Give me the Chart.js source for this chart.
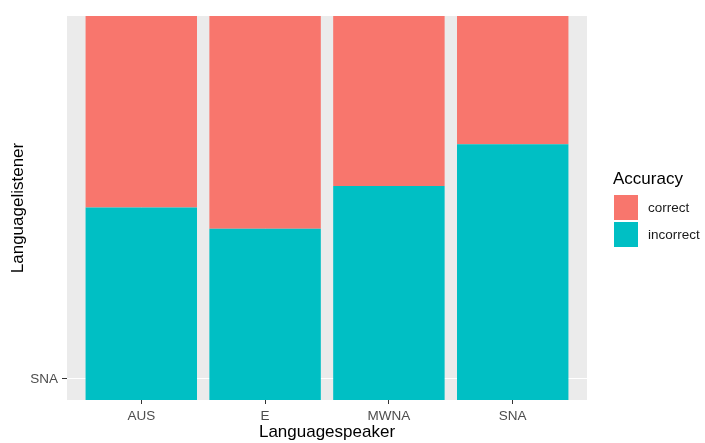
<!DOCTYPE html>
<html>
<head>
<meta charset="utf-8">
<script src="https://cdn.jsdelivr.net/npm/chart.js@4"></script>
<style>
  body { margin: 0; background: #fff; font-family: "Liberation Sans", Arial, sans-serif; }
  #wrap { position: relative; width: 705px; height: 443px; }
  #legend { position: absolute; left: 613px; top: 167px; }
  #legend .title { font-size: 17px; color: #000; height: 27px; line-height: 24px; }
  #legend .row { display: flex; align-items: center; height: 27px; }
  #legend .key { width: 26px; height: 27px; margin-right: 9px; border: 0.5px solid #fff; box-sizing: border-box; }
  #legend .lab { font-size: 13.5px; color: #1a1a1a; }
</style>
</head>
<body>
<div id="wrap">
  <canvas id="chart" width="705" height="443"></canvas>
  <div id="legend"></div>
</div>
<script>
const speakers = ["AUS", "E", "MWNA", "SNA"];
const incorrect = [0.501, 0.446, 0.557, 0.666];
const correct = [0.499, 0.554, 0.443, 0.334];
const yTickValues = [0.055];
const yTickLabels = ["SNA"];
const legendTitle = "Accuracy";

const colors = { correct: "#F8766D", incorrect: "#00BFC4" };

// grey panel behind the bars, like ggplot
const panelBg = {
  id: "panelBg",
  beforeDraw(chart) {
    const { ctx, chartArea: a } = chart;
    ctx.save();
    ctx.fillStyle = "#EBEBEB";
    ctx.fillRect(a.left, a.top, a.right - a.left, a.bottom - a.top);
    ctx.restore();
  }
};

const ctx = document.getElementById("chart").getContext("2d");
new Chart(ctx, {
  type: "bar",
  data: {
    datasets: [
      {
        label: "incorrect",
        data: incorrect.map((v, i) => ({ x: i + 1, y: v })),
        backgroundColor: colors.incorrect,
        barPercentage: 0.9,
        categoryPercentage: 1,
      },
      {
        label: "correct",
        data: correct.map((v, i) => ({ x: i + 1, y: v })),
        backgroundColor: colors.correct,
        barPercentage: 0.9,
        categoryPercentage: 1,
      },
    ],
  },
  options: {
    responsive: false,
    animation: false,
    layout: { padding: { top: 16, right: 118, left: 0, bottom: 0 } },
    plugins: { legend: { display: false }, tooltip: { enabled: false } },
    scales: {
      x: {
        type: "linear",
        stacked: true,
        offset: false,
        min: 0.4,
        max: 4.6,
        afterBuildTicks(scale) {
          scale.ticks = speakers.map((s, i) => ({ value: i + 1 }));
        },
        afterFit(scale) { scale.height = 43; },
        grid: { offset: false, color: "#FFFFFF", tickColor: "#333333", tickLength: 4 },
        border: { display: false },
        ticks: {
          color: "#4D4D4D",
          font: { family: "Liberation Sans", size: 13.5 },
          padding: 4,
          maxRotation: 0,
          callback: (v) => speakers[v - 1],
        },
        title: {
          display: true,
          text: "Languagespeaker",
          color: "#000",
          font: { family: "Liberation Sans", size: 17 },
          padding: { top: 0, bottom: 0 },
        },
      },
      y: {
        stacked: true,
        min: 0,
        max: 1,
        afterBuildTicks(scale) {
          scale.ticks = yTickValues.map((v) => ({ value: v }));
        },
        afterFit(scale) { scale.width = 67; },
        grid: { color: "#FFFFFF", tickColor: "#333333", tickLength: 5 },
        border: { display: false },
        ticks: {
          color: "#4D4D4D",
          font: { family: "Liberation Sans", size: 13.5 },
          padding: 4,
          callback: (v) => yTickLabels[yTickValues.indexOf(v)],
        },
        title: {
          display: true,
          text: "Languagelistener",
          color: "#000",
          font: { family: "Liberation Sans", size: 17 },
          padding: { top: 8, bottom: 0 },
        },
      },
    },
  },
  plugins: [panelBg],
});

// legend on the right, ggplot order: correct then incorrect
const legend = document.getElementById("legend");
legend.innerHTML = `<div class="title">${legendTitle}</div>` +
  ["correct", "incorrect"].map((k) =>
    `<div class="row"><div class="key" style="background:${colors[k]}"></div><span class="lab">${k}</span></div>`
  ).join("");
</script>
</body>
</html>
